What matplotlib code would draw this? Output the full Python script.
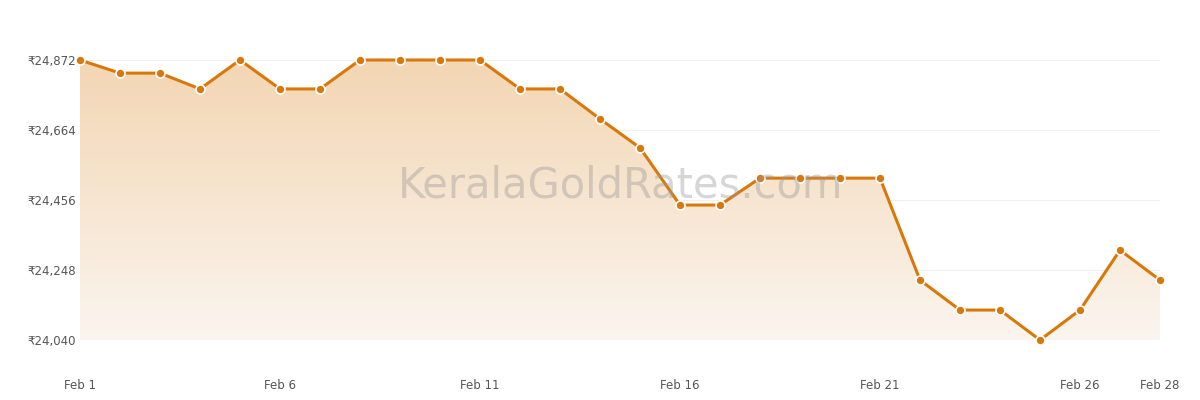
import matplotlib
matplotlib.use("Agg")
import matplotlib.pyplot as plt
import numpy as np
from matplotlib.patches import Polygon

days = list(range(1, 29))
prices = [24872, 24833, 24833, 24786, 24872, 24786, 24786, 24872, 24872, 24872,
          24872, 24786, 24786, 24697, 24611, 24441, 24441, 24521, 24521, 24521,
          24521, 24218, 24129, 24129, 24040, 24129, 24307, 24218]
yticks = [24040, 24248, 24456, 24664, 24872]
xticks = [1, 6, 11, 16, 21, 26, 28]
xlabels = ["Feb 1", "Feb 6", "Feb 11", "Feb 16", "Feb 21", "Feb 26", "Feb 28"]

color = "#d9780a"
fig = plt.figure(figsize=(12, 4), dpi=100)
ax = fig.add_axes([80/1200, 0.15, 1080/1200, 0.70])
ax.set_xlim(1, 28)
ax.set_ylim(24040, 24872)

# gradient fill
grad = np.linspace(0, 1, 256).reshape(-1, 1)
from matplotlib.colors import LinearSegmentedColormap
cmap = LinearSegmentedColormap.from_list("g", ["#fbf5ef", "#f3d6b3"])
im = ax.imshow(grad, extent=[1, 28, 24040, 24872], origin="lower", aspect="auto",
               cmap=cmap, zorder=1)
poly = Polygon(list(zip(days, prices)) + [(28, 24040), (1, 24040)], closed=True,
               transform=ax.transData, facecolor="none", edgecolor="none")
ax.add_patch(poly)
im.set_clip_path(poly)

for y in yticks:
    ax.axhline(y, color="#f0f0f0", lw=0.8, zorder=0)

ax.plot(days, prices, color=color, lw=2.2, zorder=3, clip_on=False)
ax.plot(days, prices, "o", color=color, mec="white", mew=1.2, ms=6.5, zorder=4, clip_on=False)

ax.set_yticks(yticks)
ax.set_yticklabels([f"₹{v:,}" for v in yticks], fontsize=8.5, color="#555555")
ax.set_xticks(xticks)
ax.set_xticklabels(xlabels, fontsize=8.5, color="#555555")
ax.tick_params(length=0, pad=3)
ax.tick_params(axis="x", pad=28)
for s in ax.spines.values():
    s.set_visible(False)

fig.text(0.517, 0.535, "KeralaGoldRates.com", fontsize=30, color="#999999", alpha=0.4,
         ha="center", va="center")

fig.savefig("out.png", dpi=100)
